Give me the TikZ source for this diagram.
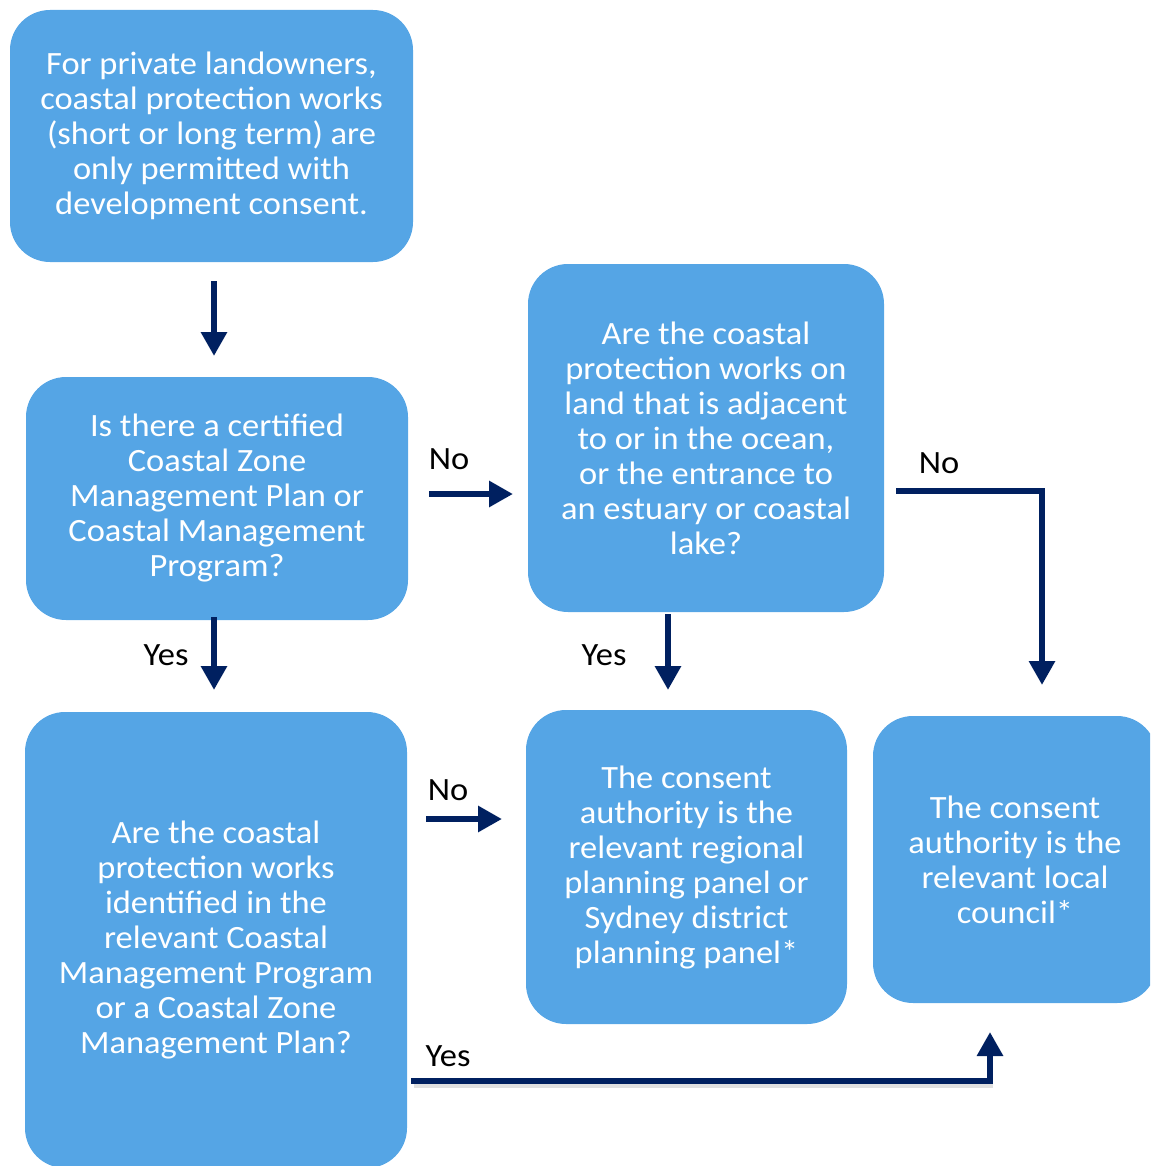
\documentclass[tikz,border=0pt]{standalone}
\usepackage{fontspec}
\setmainfont[FakeStretch=1.06]{Carlito}
\usetikzlibrary{arrows.meta}
\definecolor{boxblue}{HTML}{55A5E5}
\definecolor{navy}{HTML}{002060}
\begin{document}
\begin{tikzpicture}[x=1pt,y=-1pt,
  flowbox/.style={fill=boxblue, draw=none, rounded corners=40pt, text=white,
    align=center, inner sep=0pt, font=\fontsize{32.5}{35}\selectfont},
  conn/.style={draw=navy, line width=6pt, -{Triangle[width=25pt,length=24pt]}},
  lbl/.style={font=\fontsize{32.5}{35}\selectfont, text=black, inner sep=0pt}]
\useasboundingbox (0,0) rectangle (1150,1166);
\clip (0,0) rectangle (1150,1166);
\node[flowbox, minimum width=403pt, minimum height=252pt] (A) at (211.5,136)
  {For private landowners,\\coastal protection works\\(short or long term) are\\only permitted with\\development consent.};
\node[flowbox, minimum width=382pt, minimum height=243pt] (B) at (217,498.5)
  {Is there a certified\\Coastal Zone\\Management Plan or\\Coastal Management\\Program?};
\node[flowbox, minimum width=356pt, minimum height=348pt] (C) at (706,438)
  {Are the coastal\\protection works on\\land that is adjacent\\to or in the ocean,\\or the entrance to\\an estuary or coastal\\lake?};
\node[flowbox, minimum width=382pt, minimum height=456pt] (D) at (216,940)
  {Are the coastal\\protection works\\identified in the\\relevant Coastal\\Management Program\\or a Coastal Zone\\Management Plan?};
\node[flowbox, minimum width=321pt, minimum height=314pt] (E) at (686.5,867)
  {The consent\\authority is the\\relevant regional\\planning panel or\\Sydney district\\planning panel*};
\node[flowbox, minimum width=284pt, minimum height=287pt] (F) at (1015,859.5)
  {The consent\\authority is the\\relevant local\\council*};
% connector end points
\coordinate (a1) at (214,281); \coordinate (a2) at (214,356);
\coordinate (b1) at (429,494); \coordinate (b2) at (513,494);
\coordinate (c1) at (896,491); \coordinate (c2) at (1042,685);
\coordinate (d1) at (214,617); \coordinate (d2) at (214,690);
\coordinate (e1) at (668,614); \coordinate (e2) at (668,690);
\coordinate (f1) at (426,819); \coordinate (f2) at (502,819);
\coordinate (g1) at (411,1081); \coordinate (g2) at (990,1032);
\draw[conn] (a1) -- (a2);
\draw[conn] (b1) -- (b2);
\draw[conn] (c1) -| (c2);
\draw[conn] (d1) -- (d2);
\draw[conn] (e1) -- (e2);
\draw[conn] (f1) -- (f2);
\draw[draw=black!35, line width=5pt, opacity=0.35] ([shift={(3,4)}]g1) -| ([shift={(3,4)}]g2 |- g1);
\draw[conn] (g1) -| (g2);
\node[lbl] (n1) at (449,459) {No};
\node[lbl] (n2) at (939,463) {No};
\node[lbl] (y1) at (166,655) {Yes};
\node[lbl] (y2) at (604,655) {Yes};
\node[lbl] (n3) at (448,790) {No};
\node[lbl] (y3) at (448,1056) {Yes};
\end{tikzpicture}
\end{document}
